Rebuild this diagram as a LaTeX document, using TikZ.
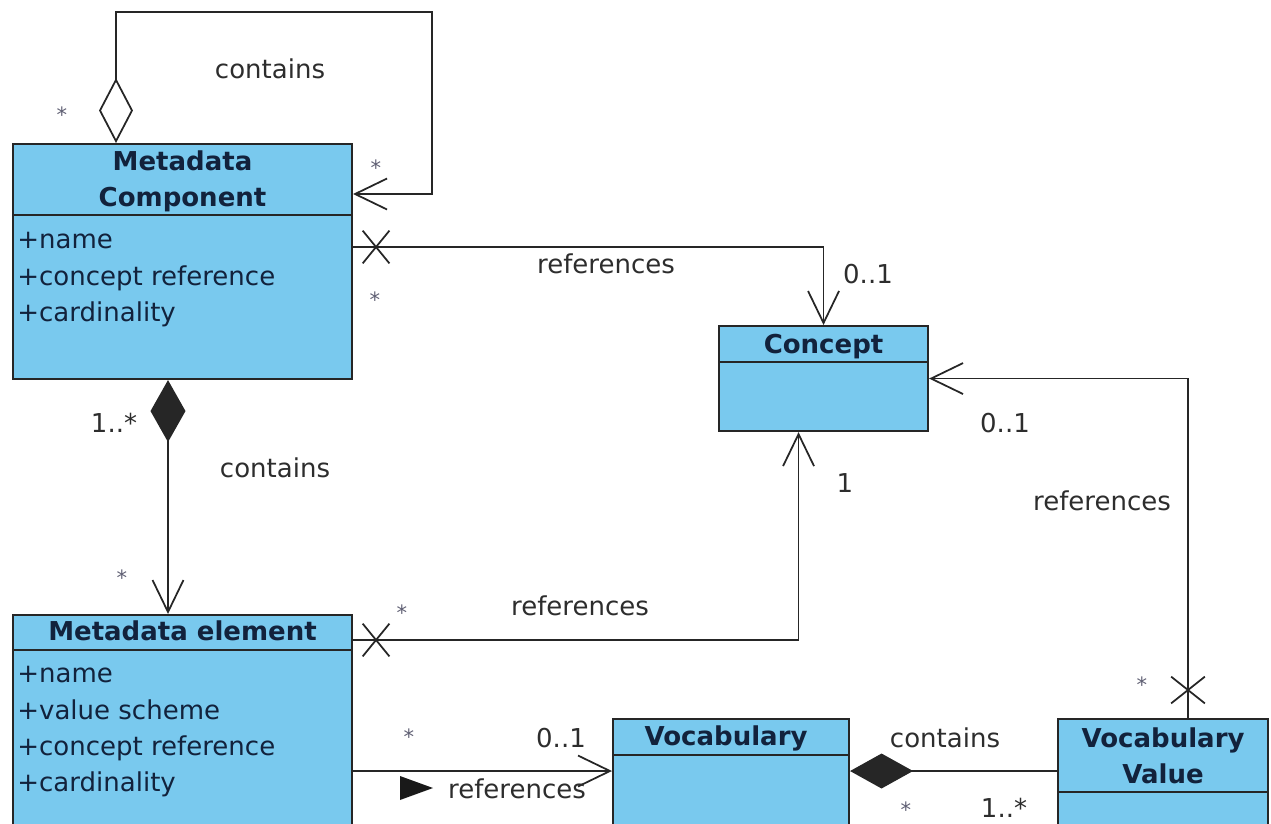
\documentclass[tikz,border=0pt]{standalone}
\usepackage{fontspec}
\setmainfont{DejaVu Sans}
\usepackage{xcolor}
\usetikzlibrary{arrows.meta,positioning,calc,shapes.misc}

\definecolor{umlblue}{RGB}{121,201,238}
\definecolor{umlnavy}{RGB}{18,34,60}
\definecolor{lblgray}{RGB}{45,45,45}
\definecolor{multgray}{RGB}{95,95,115}
\newcommand{\umlfont}{\fontsize{14.8}{20.7}\selectfont}

\begin{document}
\begin{tikzpicture}[x=0.02cm, y=-0.02cm,
    cls/.style={rectangle, draw=black!85, line width=1.2pt, fill=umlblue, anchor=north west, inner sep=0},
    divl/.style={draw=black!85, line width=1.2pt},
    ttl/.style={font=\umlfont\bfseries, text=umlnavy, inner sep=0, align=center},
    attr/.style={font=\umlfont, text=umlnavy, inner sep=0, align=left, anchor=north west},
    lbl/.style={font=\umlfont, text=lblgray, inner sep=0, anchor=base},
    mult/.style={lbl, font=\fontsize{12}{14}\selectfont, text=multgray},
    nav/.style={cross out, draw=black!85, line width=1pt, inner sep=0, minimum width=0.5cm, minimum height=0.62cm},
    assoc/.style={draw=black!85, line width=1pt},
    open/.style={-{Straight Barb[length=0.64cm, width=0.62cm]}},
    agg/.style={{Diamond[open, length=1.3cm, width=0.68cm]}-{Straight Barb[length=0.64cm, width=0.62cm]}},
    compo/.style={{Diamond[length=1.26cm, width=0.7cm]}-},
    componav/.style={{Diamond[length=1.24cm, width=0.7cm]}-{Straight Barb[length=0.64cm, width=0.62cm]}}]

    \useasboundingbox (0,0) rectangle (1271,823);
    \clip (0,0) rectangle (1271,823);

    % Classes
    \node[cls, minimum width=6.78cm, minimum height=4.7cm] (mc) at (12,143) {};
    \node[cls, minimum width=4.18cm, minimum height=2.1cm] (concept) at (718,325) {};
    \node[cls, minimum width=6.78cm, minimum height=4.8cm] (me) at (12,614) {};
    \node[cls, minimum width=4.72cm, minimum height=2.8cm] (voc) at (612,718) {};
    \node[cls, minimum width=4.2cm, minimum height=2.8cm] (vv) at (1057,718) {};

    % Compartment lines
    \draw[divl] ($(mc.north west)+(0,72)$) -- ($(mc.north east)+(0,72)$);
    \draw[divl] ($(concept.north west)+(0,37)$) -- ($(concept.north east)+(0,37)$);
    \draw[divl] ($(me.north west)+(0,36)$) -- ($(me.north east)+(0,36)$);
    \draw[divl] ($(voc.north west)+(0,37)$) -- ($(voc.north east)+(0,37)$);
    \draw[divl] ($(vv.north west)+(0,74)$) -- ($(vv.north east)+(0,74)$);

    % Class names
    \node[ttl, anchor=north] (mctitle) at ($(mc.north)+(0,7)$) {Metadata\\Component};
    \node[ttl, anchor=base] (concepttitle) at ($(concept.north)+(0,28)$) {Concept};
    \node[ttl, anchor=base] (metitle) at ($(me.north)+(0,26)$) {Metadata element};
    \node[ttl, anchor=base] (voctitle) at ($(voc.north)+(-5,27)$) {Vocabulary};
    \node[ttl, anchor=north] (vvtitle) at ($(vv.north)+(0,9)$) {Vocabulary\\Value};

    % Attributes
    \node[attr] (mcattr) at (17,232) {+name\\+concept reference\\+cardinality};
    \node[attr] (meattr) at (17,666) {+name\\+value scheme\\+concept reference\\+cardinality};

    % Connectors
    \draw[assoc, agg] ($(mc.north west)+(104,0)$) -- ++(0,-131) -| ($(mc.north east)+(79,51)$) -- ($(mc.north east)+(0,51)$);
    \draw[assoc, open] ($(mc.north east)+(0,104)$) -| (concept.north);
    \node[nav] (mcnav) at ($(mc.north east)+(23,104)$) {};
    \draw[assoc, componav] ($(mc.south west)+(156,0)$) -- ($(me.north west)+(156,0)$);
    \draw[assoc, open] ($(me.north east)+(0,26)$) -| ($(concept.south)+(-25,0)$);
    \node[nav] (menav) at ($(me.north east)+(23,26)$) {};
    \draw[assoc, open] ($(vv.north west)+(131,0)$) |- (concept.east);
    \node[nav, minimum width=0.64cm, minimum height=0.5cm] (vvnav) at ($(vv.north west)+(131,-28)$) {};
    \draw[assoc, open] ($(me.north east)+(0,157)$) -- ($(voc.north west)+(0,53)$);
    \fill[black!90] (400,776) -- (433,788) -- (400,800) -- cycle;
    \draw[assoc, compo] ($(voc.north east)+(0,53)$) -- ($(vv.north west)+(0,53)$);

    % Association labels
    \node[lbl] (l1) at (270,78) {contains};
    \node[lbl] (l2) at (606,273) {references};
    \node[lbl] (l3) at (275,477) {contains};
    \node[lbl] (l4) at (580,615) {references};
    \node[lbl] (l5) at (1102,510) {references};
    \node[lbl] (l6) at (517,798) {references};
    \node[lbl] (l7) at (945,747) {contains};

    % Multiplicities
    \node[mult] (m1) at (62,122) {*};
    \node[mult] (m2) at (376,175) {*};
    \node[mult] (m3) at (375,307) {*};
    \node[lbl] (m4) at (868,283) {0..1};
    \node[lbl] (m5) at (114,432) {1..*};
    \node[mult] (m6) at (122,585) {*};
    \node[mult] (m7) at (402,620) {*};
    \node[lbl] (m8) at (845,492) {1};
    \node[lbl] (m9) at (1005,432) {0..1};
    \node[mult] (m10) at (1142,692) {*};
    \node[mult] (m11) at (409,744) {*};
    \node[lbl] (m12) at (561,747) {0..1};
    \node[mult] (m13) at (906,817) {*};
    \node[lbl] (m14) at (1004,817) {1..*};
\end{tikzpicture}
\end{document}
